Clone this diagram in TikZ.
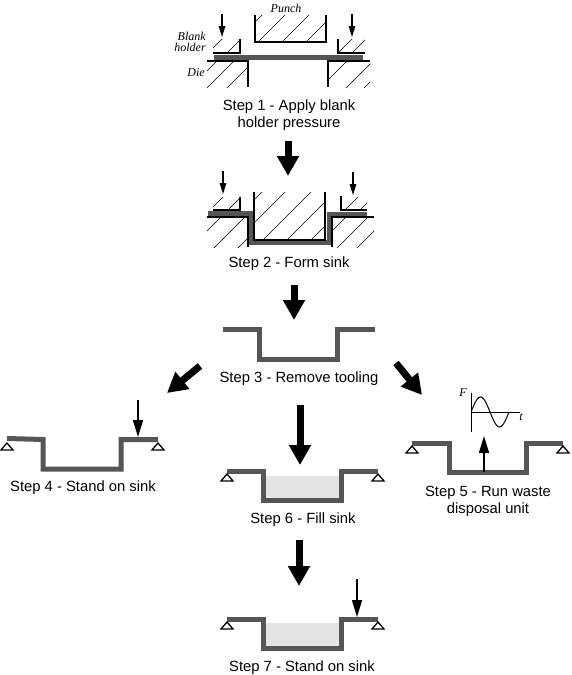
\documentclass[tikz,border=0pt]{standalone}
\usepackage{fontspec}
\setmainfont{Liberation Sans}
\newfontfamily\lblserif{Liberation Serif}
\usetikzlibrary{arrows.meta}
\definecolor{sheet}{HTML}{555555}
\definecolor{water}{HTML}{E3E3E3}
\tikzset{
  stepcap/.style={inner sep=0pt,align=center,font=\fontsize{14.8}{17}\selectfont},
  tag/.style={inner sep=0pt,align=right,font=\lblserif\itshape\fontsize{12}{11.5}\selectfont},
  sheetline/.style={draw=sheet,line width=5pt,line join=miter},
  toolline/.style={draw=black,line width=1.5pt,line join=miter},
  hatchline/.style={draw=black,line width=0.6pt},
  bigarrow/.style={draw=black,line width=7pt,-{Triangle[length=20pt,width=21pt]}},
  smallarrow/.style={draw=black,line width=1.6pt,-{Triangle[length=17pt,width=10pt]}},
  pinarrow/.style={draw=black,line width=1.3pt,-{Triangle[length=11pt,width=6.5pt]}},
  pivotline/.style={draw=black,fill=white,line width=1.3pt,line join=miter},
}
\newcommand{\hatchbox}[5]{%
  \begin{scope}
    \clip (#1,#2) rectangle (#3,#4);
    \foreach \c in {#5} {\draw[hatchline] (\c-800,800) -- (\c,0);}
  \end{scope}}
\newcommand{\pivotmark}[2]{\draw[pivotline] (#1,#2) -- ++(-6,7) -- ++(12,0) -- cycle;}
\begin{document}
\begin{tikzpicture}[x=1pt,y=-1pt]
\useasboundingbox (0,0) rectangle (572,675);
\fill[white] (0,0) rectangle (572,675);

% ---- Step 1
\hatchbox{255}{15}{326}{42}{277,300,324,348}
\hatchbox{207}{61}{248}{87}{278,295,315}
\hatchbox{328}{61}{370}{87}{408,434,452}
\hatchbox{213}{39}{240}{53}{261,280}
\hatchbox{338}{39}{365}{53}{391,405}
\draw[draw=sheet,line width=5pt] (214,57.5) -- (363,57.5);
\draw[toolline] (207,61) -- (248,61) -- (248,87);
\draw[toolline] (370,61) -- (328,61) -- (328,87);
\draw[toolline] (213,53) -- (240,53) -- (240,39);
\draw[toolline] (338,39) -- (338,53) -- (365,53);
\draw[toolline] (255,15) -- (255,42) -- (326,42) -- (326,15);
\coordinate (p1a) at (222,14); \coordinate (p1b) at (222,37);
\coordinate (p2a) at (352,14); \coordinate (p2b) at (352,37);
\draw[pinarrow] (p1a) -- (p1b);
\draw[pinarrow] (p2a) -- (p2b);
\node[tag] (punch) at (286,8) {Punch};
\node[tag] (holder) at (190,42) {Blank\\holder};
\node[tag] (die) at (196,73) {Die};
\node[stepcap] (s1) at (289,115.5) {Step 1 - Apply blank\\holder pressure};

% ---- Step 2
\hatchbox{254}{192}{325}{240}{454,477,503,527,551}
\hatchbox{207}{217}{248}{247}{438,462,486}
\hatchbox{332}{217}{374}{247}{563,585,605}
\hatchbox{213}{197}{240}{210}{420,438}
\hatchbox{341}{197}{367}{210}{555,570}
\draw[sheetline] (208,213.5) -- (251.5,213.5) -- (251.5,242.5) -- (329.5,242.5) -- (329.5,214.5) -- (367,214.5);
\draw[toolline] (207,217) -- (248,217) -- (248,247);
\draw[toolline] (374,217) -- (332,217) -- (332,247);
\draw[toolline] (213,210) -- (240,210) -- (240,197);
\draw[toolline] (341,196) -- (341,210) -- (367,210);
\draw[toolline] (254,192) -- (254,240) -- (325,240) -- (325,192);
\coordinate (p3a) at (223,171); \coordinate (p3b) at (223,194);
\coordinate (p4a) at (353,172); \coordinate (p4b) at (353,195);
\draw[pinarrow] (p3a) -- (p3b);
\draw[pinarrow] (p4a) -- (p4b);
\node[stepcap] (s2) at (289,263.5) {Step 2 - Form sink};

% ---- Step 3
\draw[sheetline] (223,329.5) -- (259,329.5) -- (259,359) -- (337,359) -- (337,329.5) -- (375,329.5);
\node[stepcap] (s3) at (299,378.5) {Step 3 - Remove tooling};

% ---- Step 4
\draw[sheetline] (7,438.5) -- (43,439.5) -- (43,469) -- (121,469) -- (121,439.5) -- (158,439.5);
\pivotmark{7}{443}
\pivotmark{158}{443}
\coordinate (p5a) at (138,400); \coordinate (p5b) at (138,437);
\draw[smallarrow] (p5a) -- (p5b);
\node[stepcap] (s4) at (83,487.5) {Step 4 - Stand on sink};

% ---- Step 5
\draw[sheetline] (412,443) -- (449,443) -- (449,472.5) -- (526,472.5) -- (526,443) -- (563,443);
\pivotmark{412}{446}
\pivotmark{563}{446}
\coordinate (p6a) at (484,472); \coordinate (p6b) at (484,436);
\draw[smallarrow] (p6a) -- (p6b);
\coordinate (ax1) at (471,393); \coordinate (ax2) at (471,432);
\coordinate (ax3) at (471,412); \coordinate (ax4) at (520,412);
\draw[draw=black,line width=0.9pt] (ax1) -- (ax2);
\draw[draw=black,line width=0.9pt] (ax3) -- (ax4);
\draw[draw=black,line width=1pt] plot[smooth,domain=0:360,samples=37] ({471+\x*38/360},{412-15*sin(\x)});
\node[tag] (fl) at (463,393) {F};
\node[tag] (tl) at (521,417) {t};
\node[stepcap] (s5) at (488,501.5) {Step 5 - Run waste\\disposal unit};

% ---- Step 6
\fill[water] (266,476) rectangle (339,498);
\draw[sheetline] (227,471.5) -- (263,471.5) -- (263,500) -- (341,500) -- (341,471.5) -- (378,471.5);
\pivotmark{227}{474}
\pivotmark{378}{474}
\node[stepcap] (s6) at (303,519.5) {Step 6 - Fill sink};

% ---- Step 7
\fill[water] (266,623) rectangle (339,646);
\draw[sheetline] (227,619) -- (263,619) -- (263,648) -- (341,648) -- (341,619) -- (378,619);
\pivotmark{227}{622}
\pivotmark{378}{622}
\coordinate (p7a) at (357,579); \coordinate (p7b) at (357,617);
\draw[smallarrow] (p7a) -- (p7b);
\node[stepcap] (s7) at (302,667.5) {Step 7 - Stand on sink};

% ---- Big arrows between steps
\coordinate (b1a) at (288,141); \coordinate (b1b) at (288,176);
\coordinate (b2a) at (294,285); \coordinate (b2b) at (294,320);
\coordinate (b3a) at (200,366); \coordinate (b3b) at (167,393);
\coordinate (b4a) at (396,363); \coordinate (b4b) at (422,395);
\coordinate (b5a) at (300,405); \coordinate (b5b) at (300,465);
\coordinate (b6a) at (299,540); \coordinate (b6b) at (299,586);
\draw[bigarrow] (b1a) -- (b1b);
\draw[bigarrow] (b2a) -- (b2b);
\draw[bigarrow] (b3a) -- (b3b);
\draw[bigarrow] (b4a) -- (b4b);
\draw[bigarrow] (b5a) -- (b5b);
\draw[bigarrow] (b6a) -- (b6b);
\end{tikzpicture}
\end{document}
